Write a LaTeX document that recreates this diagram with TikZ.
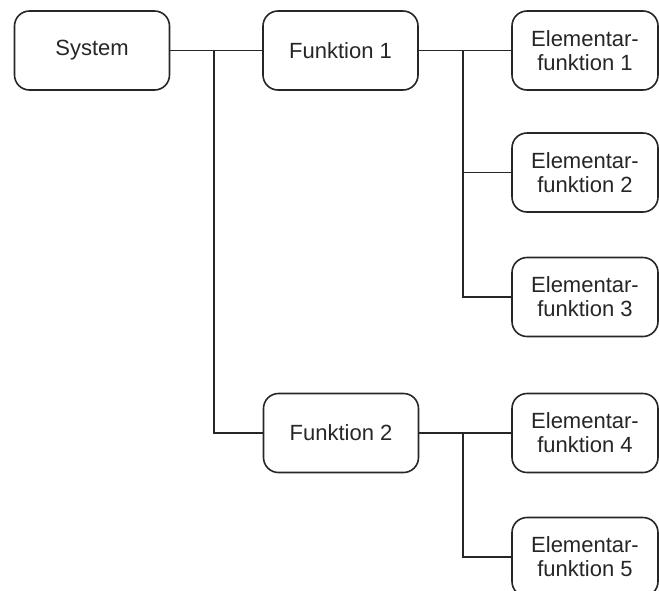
\documentclass[tikz,border=0pt]{standalone}
\usepackage{fontspec}
\setmainfont{Liberation Sans}
\usepackage{tikz}

\tikzset{
	fbox/.style={draw=black!85, line width=1.6pt, rounded corners=15pt, align=center,
		minimum width=155pt, minimum height=79pt, inner sep=0pt,
		font=\fontsize{22}{24}\selectfont, text=black!85},
	ebox/.style={fbox, minimum width=146pt},
	conn/.style={draw=black!85, line width=1.7pt}
}

\begin{document}
\begin{tikzpicture}[x=1pt, y=-1pt]
			\clip (0,0) rectangle (659,590);
			\fill[white] (0,0) rectangle (659,590);
			% Hauptfunktionen
			\node[fbox] (sys) at (92,50.5) {System};
			\node[fbox] (f1) at (340.5,50.5) {Funktion 1};
			\node[fbox] (f2) at (341,433) {Funktion 2};
			% Elementarfunktionen
			\node[ebox] (e1) at (585,50.5) {Elementar-\\funktion 1};
			\node[ebox] (e2) at (585,172.5) {Elementar-\\funktion 2};
			\node[ebox] (e3) at (585,297) {Elementar-\\funktion 3};
			\node[ebox] (e4) at (585,433) {Elementar-\\funktion 4};
			\node[ebox] (e5) at (585,557) {Elementar-\\funktion 5};
			% Verzweigungen
			\coordinate (b1) at (214,50.5);
			\coordinate (b2) at (463,50.5);
			\coordinate (b3) at (463,433);
			\draw[conn] (sys) -- (f1);
			\draw[conn] (b1) |- (f2);
			\draw[conn] (f1) -- (e1);
			\draw[conn] (b2) |- (e2);
			\draw[conn] (b2) |- (e3);
			\draw[conn] (f2) -- (e4);
			\draw[conn] (b3) |- (e5);
		\end{tikzpicture}
\end{document}
